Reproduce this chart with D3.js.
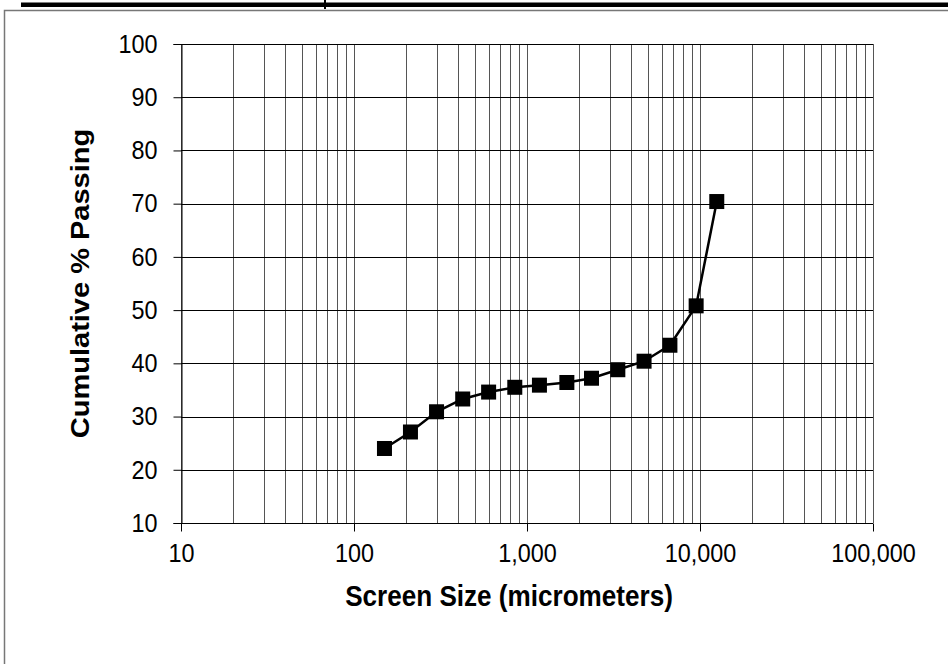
<!DOCTYPE html>
<html>
<head>
<meta charset="utf-8">
<script src="https://cdn.jsdelivr.net/npm/d3@7"></script>
<style>
  body { margin: 0; background: #fff; }
  svg { display: block; font-family: "Liberation Sans", Arial, sans-serif; }
</style>
</head>
<body>
<script>
const width = 948;
const height = 664;

// sieve sizes (micrometers) and cumulative % passing
const screenSizes = [150, 212, 300, 425, 600, 850, 1180, 1700, 2360, 3350, 4750, 6700, 9500, 12500];
const passing = [24.0, 27.1, 30.9, 33.3, 34.6, 35.5, 35.9, 36.4, 37.2, 38.8, 40.4, 43.4, 50.8, 70.4];

const xTicks = [10, 100, 1000, 10000, 100000];
const yTicks = [10, 20, 30, 40, 50, 60, 70, 80, 90, 100];

const margin = { top: 44, right: 75, bottom: 141, left: 181 };
const squeeze = 0.9; // text in the original looks horizontally compressed

const svg = d3.select('body').append('svg')
  .attr('width', width)
  .attr('height', height);

// frame decoration: thick bar on top, thin grey box
svg.append('rect')
  .attr('x', 21).attr('y', 2.5)
  .attr('width', width - 21).attr('height', 4.5)
  .attr('fill', '#000');
svg.append('line')
  .attr('x1', 325).attr('x2', 325)
  .attr('y1', 0).attr('y2', 9)
  .attr('stroke', '#000').attr('stroke-width', 2);
svg.append('rect')
  .attr('x', 4.5).attr('y', 10.5)
  .attr('width', width + 10).attr('height', height + 10)
  .attr('fill', 'none')
  .attr('stroke', '#777')
  .attr('stroke-width', 1.5);

const x = d3.scaleLog()
  .domain([10, 100000])
  .range([margin.left, width - margin.right]);

const y = d3.scaleLinear()
  .domain([10, 100])
  .range([height - margin.bottom, margin.top]);

// minor + major vertical grid lines (log decades)
const vLines = x.ticks();
svg.append('g')
  .selectAll('line')
  .data(vLines)
  .join('line')
  .attr('x1', d => Math.round(x(d)) + 0.5)
  .attr('x2', d => Math.round(x(d)) + 0.5)
  .attr('y1', y(100))
  .attr('y2', y(10))
  .attr('stroke', '#555')
  .attr('stroke-width', 1);

// horizontal grid lines
svg.append('g')
  .selectAll('line')
  .data(yTicks)
  .join('line')
  .attr('x1', x(10))
  .attr('x2', x(100000))
  .attr('y1', d => Math.round(y(d)) + 0.5)
  .attr('y2', d => Math.round(y(d)) + 0.5)
  .attr('stroke', '#000')
  .attr('stroke-width', 1);

// axes
const xAxis = d3.axisBottom(x)
  .tickValues(xTicks)
  .tickFormat(d3.format(','))
  .tickSize(8)
  .tickPadding(12);

const yAxis = d3.axisLeft(y)
  .tickValues(yTicks)
  .tickSize(8)
  .tickPadding(16);

const gx = svg.append('g')
  .attr('transform', `translate(0, ${Math.round(y(10)) + 0.5})`)
  .call(xAxis);
gx.select('.domain').remove();

const gy = svg.append('g')
  .attr('transform', `translate(${Math.round(x(10)) + 0.5}, 0)`)
  .call(yAxis);
gy.select('.domain').attr('stroke', '#000');

svg.selectAll('.tick line').attr('stroke', '#000');

// squeeze tick labels horizontally around their anchor
svg.selectAll('.tick text')
  .attr('font-size', 26)
  .attr('font-family', '"Liberation Sans", Arial, sans-serif')
  .attr('fill', '#000')
  .each(function () {
    const t = d3.select(this);
    const tx = +t.attr('x') || 0;
    t.attr('transform', `translate(${tx},0) scale(${squeeze},1) translate(${-tx},0)`);
  });

// axis titles
svg.append('text')
  .attr('transform', `translate(509, 606) scale(${squeeze},1)`)
  .attr('text-anchor', 'middle')
  .attr('font-size', 29)
  .attr('font-weight', 'bold')
  .text('Screen Size (micrometers)');

svg.append('text')
  .attr('transform', `translate(89, ${(y(10) + y(100)) / 2}) scale(${squeeze},1) rotate(-90)`)
  .attr('text-anchor', 'middle')
  .attr('font-size', 29)
  .attr('font-weight', 'bold')
  .text('Cumulative % Passing');

// data line + square markers
const points = screenSizes.map((s, i) => ({ size: s, pct: passing[i] }));

const line = d3.line()
  .x(d => x(d.size))
  .y(d => y(d.pct));

svg.append('path')
  .datum(points)
  .attr('d', line)
  .attr('fill', 'none')
  .attr('stroke', '#000')
  .attr('stroke-width', 2.5);

const m = 15;
svg.append('g')
  .selectAll('rect')
  .data(points)
  .join('rect')
  .attr('x', d => x(d.size) - m / 2)
  .attr('y', d => y(d.pct) - m / 2)
  .attr('width', m)
  .attr('height', m)
  .attr('fill', '#000');
</script>
</body>
</html>
